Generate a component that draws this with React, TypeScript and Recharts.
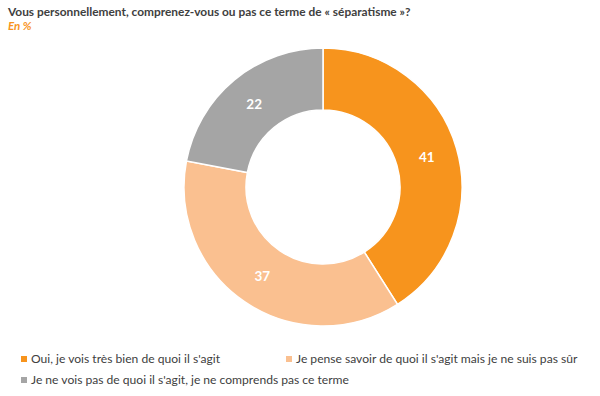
import React from 'react';
import { PieChart, Pie, Cell, Legend } from 'recharts';

const answers = [
    'Oui, je vois très bien de quoi il s\'agit',
    'Je pense savoir de quoi il s\'agit mais je ne suis pas sûr',
    'Je ne vois pas de quoi il s\'agit, je ne comprends pas ce terme',
];
const shares = [41, 37, 22];
const colors = ['#F7941D', '#FAC090', '#A5A5A5'];

const data = answers.map((name, i) => ({ name, value: shares[i] }));

const RADIAN = Math.PI / 180;

const renderLabel = (props: any) => {
    const { cx, cy, midAngle, innerRadius, outerRadius, value } = props;
    const r = (innerRadius + outerRadius) / 2;
    const x = cx + r * Math.cos(-midAngle * RADIAN);
    const y = cy + r * Math.sin(-midAngle * RADIAN);
    return (
        <text x={x} y={y} fill="#fff" fontSize={13.5} fontWeight="bold" textAnchor="middle" dominantBaseline="central"
            fontFamily="Lato, sans-serif">
            {value}
        </text>
    );
};

const renderLegend = () => {
    const item = (i: number, x: number, y: number) => (
        <div key={i} style={{ position: 'absolute', left: x, top: y, display: 'flex', alignItems: 'center', whiteSpace: 'nowrap' }}>
            <span style={{ width: 6, height: 6, background: colors[i], marginRight: 4, display: 'inline-block' }} />
            <span>{answers[i]}</span>
        </div>
    );
    return (
        <div style={{ position: 'relative', width: 600, height: 50, fontFamily: 'Lato, sans-serif', fontSize: 12.1, color: '#404040' }}>
            {item(0, 21, 0)}
            {item(1, 286, 0)}
            {item(2, 21, 21)}
        </div>
    );
};

const App: React.FC = () => {
    return (
        <div style={{ position: 'absolute', left: 0, top: 0, width: 600, height: 396, background: '#fff', fontFamily: 'Lato, sans-serif' }}>
            <div style={{ position: 'absolute', left: 8, top: 4, fontSize: 11.9, fontWeight: 'bold', color: '#404040' }}>
                Vous personnellement, comprenez-vous ou pas ce terme de « séparatisme »?
            </div>
            <div style={{ position: 'absolute', left: 8, top: 19, fontSize: 11.5, fontWeight: 'bold', fontStyle: 'italic', color: '#F7941D' }}>
                En %
            </div>
            <PieChart width={600} height={396} margin={{ top: 0, right: 0, bottom: 0, left: 0 }}>
                <Pie
                    data={data}
                    dataKey="value"
                    nameKey="name"
                    cx={323}
                    cy={187}
                    innerRadius={77}
                    outerRadius={139}
                    startAngle={90}
                    endAngle={-270}
                    stroke="#fff"
                    strokeWidth={1.5}
                    label={renderLabel}
                    labelLine={false}
                    isAnimationActive={false}
                >
                    {data.map((d, i) => (
                        <Cell key={d.name} fill={colors[i]} />
                    ))}
                </Pie>
                <Legend content={renderLegend} wrapperStyle={{ left: 0, top: 351, width: 600 }} />
            </PieChart>
        </div>
    );
};

export default App;
